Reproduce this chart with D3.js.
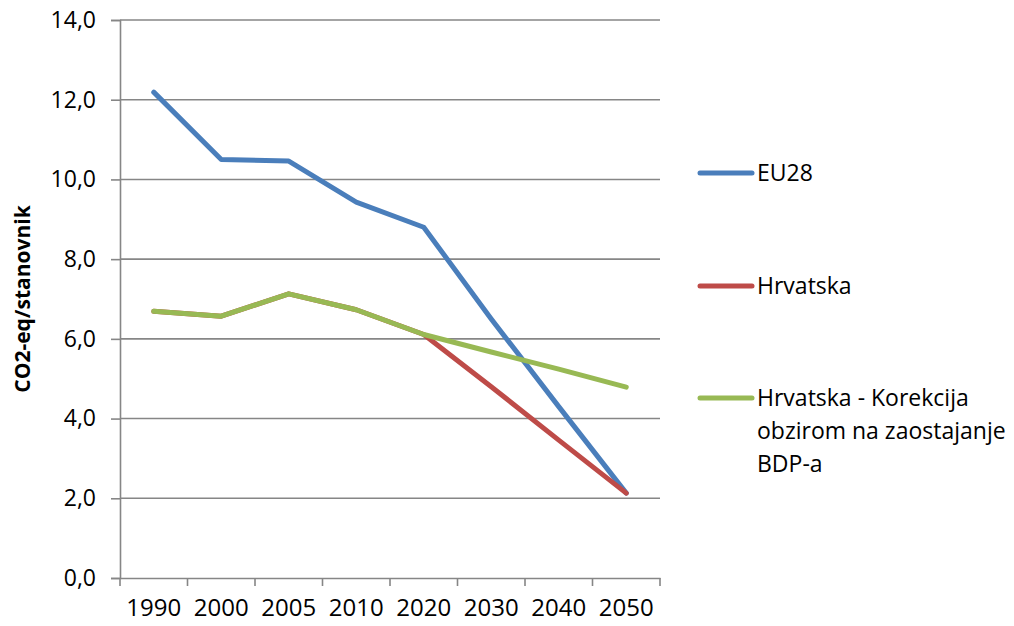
<!DOCTYPE html>
<html>
<head>
<meta charset="utf-8">
<script src="https://cdn.jsdelivr.net/npm/d3@7"></script>
<style>
  html, body { margin: 0; padding: 0; background: #fff; }
  svg { display: block; }
  text { font-family: "Open Sans", "Noto Sans", sans-serif; fill: #000; }
</style>
</head>
<body>
<svg id="chart" width="1014" height="626"></svg>
<script>
const categories = ["1990", "2000", "2005", "2010", "2020", "2030", "2040", "2050"];
const eu28 = [12.19, 10.50, 10.46, 9.43, 8.80, 6.50, 4.30, 2.13];
const hrvatska = [6.69, 6.57, 7.13, 6.73, 6.11, 4.80, 3.46, 2.13];
const hrvatskaKorekcija = [6.69, 6.57, 7.13, 6.73, 6.11, 5.67, 5.24, 4.79];
const yTicks = [0, 2, 4, 6, 8, 10, 12, 14];
const seriesNames = ["EU28", "Hrvatska", "Hrvatska - Korekcija obzirom na zaostajanje BDP-a"];
const seriesColors = ["#4a7ebb", "#be4b48", "#98b954"];
const yTitle = "CO2-eq/stanovnik";

const svg = d3.select("#chart");
const mLeft = 120, mRight = 660, mTop = 20, mBottom = 578;

const x = d3.scaleBand().domain(categories).range([mLeft, mRight]);
const y = d3.scaleLinear().domain([0, 14]).range([mBottom, mTop]);
const fmt = v => d3.format(".1f")(v).replace(".", ",");

// gridlines
svg.append("g").selectAll("line").data(yTicks.filter(t => t > 0)).join("line")
  .attr("x1", mLeft).attr("x2", mRight)
  .attr("y1", d => y(d)).attr("y2", d => y(d))
  .attr("stroke", "#868686").attr("stroke-width", 1.6);

// y axis
const yAxis = svg.append("g").attr("transform", `translate(${mLeft},0)`)
  .call(d3.axisLeft(y).tickValues(yTicks).tickFormat(fmt).tickSize(9).tickPadding(15));
yAxis.select(".domain").attr("stroke", "#868686").attr("stroke-width", 1.6);
yAxis.selectAll(".tick line").attr("stroke", "#868686").attr("stroke-width", 1.6);
yAxis.selectAll("text").style("font-size", "23px").attr("fill", "#000");

// x axis
const xAxis = svg.append("g").attr("transform", `translate(0,${mBottom})`)
  .call(d3.axisBottom(x).tickSize(0).tickPadding(21));
xAxis.select(".domain").attr("stroke", "#868686").attr("stroke-width", 1.6);
xAxis.selectAll("text").style("font-size", "24px").attr("fill", "#000");
// x tick marks at band boundaries
const bounds = categories.map(c => x(c)).concat([x(categories[categories.length - 1]) + x.bandwidth()]);
svg.append("g").selectAll("line").data(bounds).join("line")
  .attr("x1", d => d).attr("x2", d => d)
  .attr("y1", mBottom).attr("y2", mBottom + 8)
  .attr("stroke", "#868686").attr("stroke-width", 1.6);

// y title
svg.append("text")
  .attr("transform", `translate(30,${(mTop + mBottom) / 2}) rotate(-90)`)
  .attr("text-anchor", "middle")
  .style("font-size", "21px").style("font-weight", "bold")
  .text(yTitle);

// lines
const line = d3.line()
  .x((d, i) => x(categories[i]) + x.bandwidth() / 2)
  .y(d => y(d));
const allSeries = [eu28, hrvatska, hrvatskaKorekcija];
svg.append("g").selectAll("path").data(allSeries).join("path")
  .attr("d", d => line(d))
  .attr("fill", "none")
  .attr("stroke", (d, i) => seriesColors[i])
  .attr("stroke-width", 5)
  .attr("stroke-linejoin", "round")
  .attr("stroke-linecap", "round");

// legend
const legendY = [173, 286, 398];
const legendLines = [["EU28"], ["Hrvatska"], ["Hrvatska - Korekcija", "obzirom na zaostajanje", "BDP-a"]];
const lg = svg.append("g");
legendY.forEach((ly, i) => {
  lg.append("line")
    .attr("x1", 700).attr("x2", 752).attr("y1", ly).attr("y2", ly)
    .attr("stroke", seriesColors[i]).attr("stroke-width", 5).attr("stroke-linecap", "round");
  const t = lg.append("text").attr("x", 757).attr("y", ly + 8).style("font-size", "23px");
  legendLines[i].forEach((s, j) => {
    t.append("tspan").attr("x", 757).attr("dy", j === 0 ? 0 : 33).text(s);
  });
});
</script>
</body>
</html>
